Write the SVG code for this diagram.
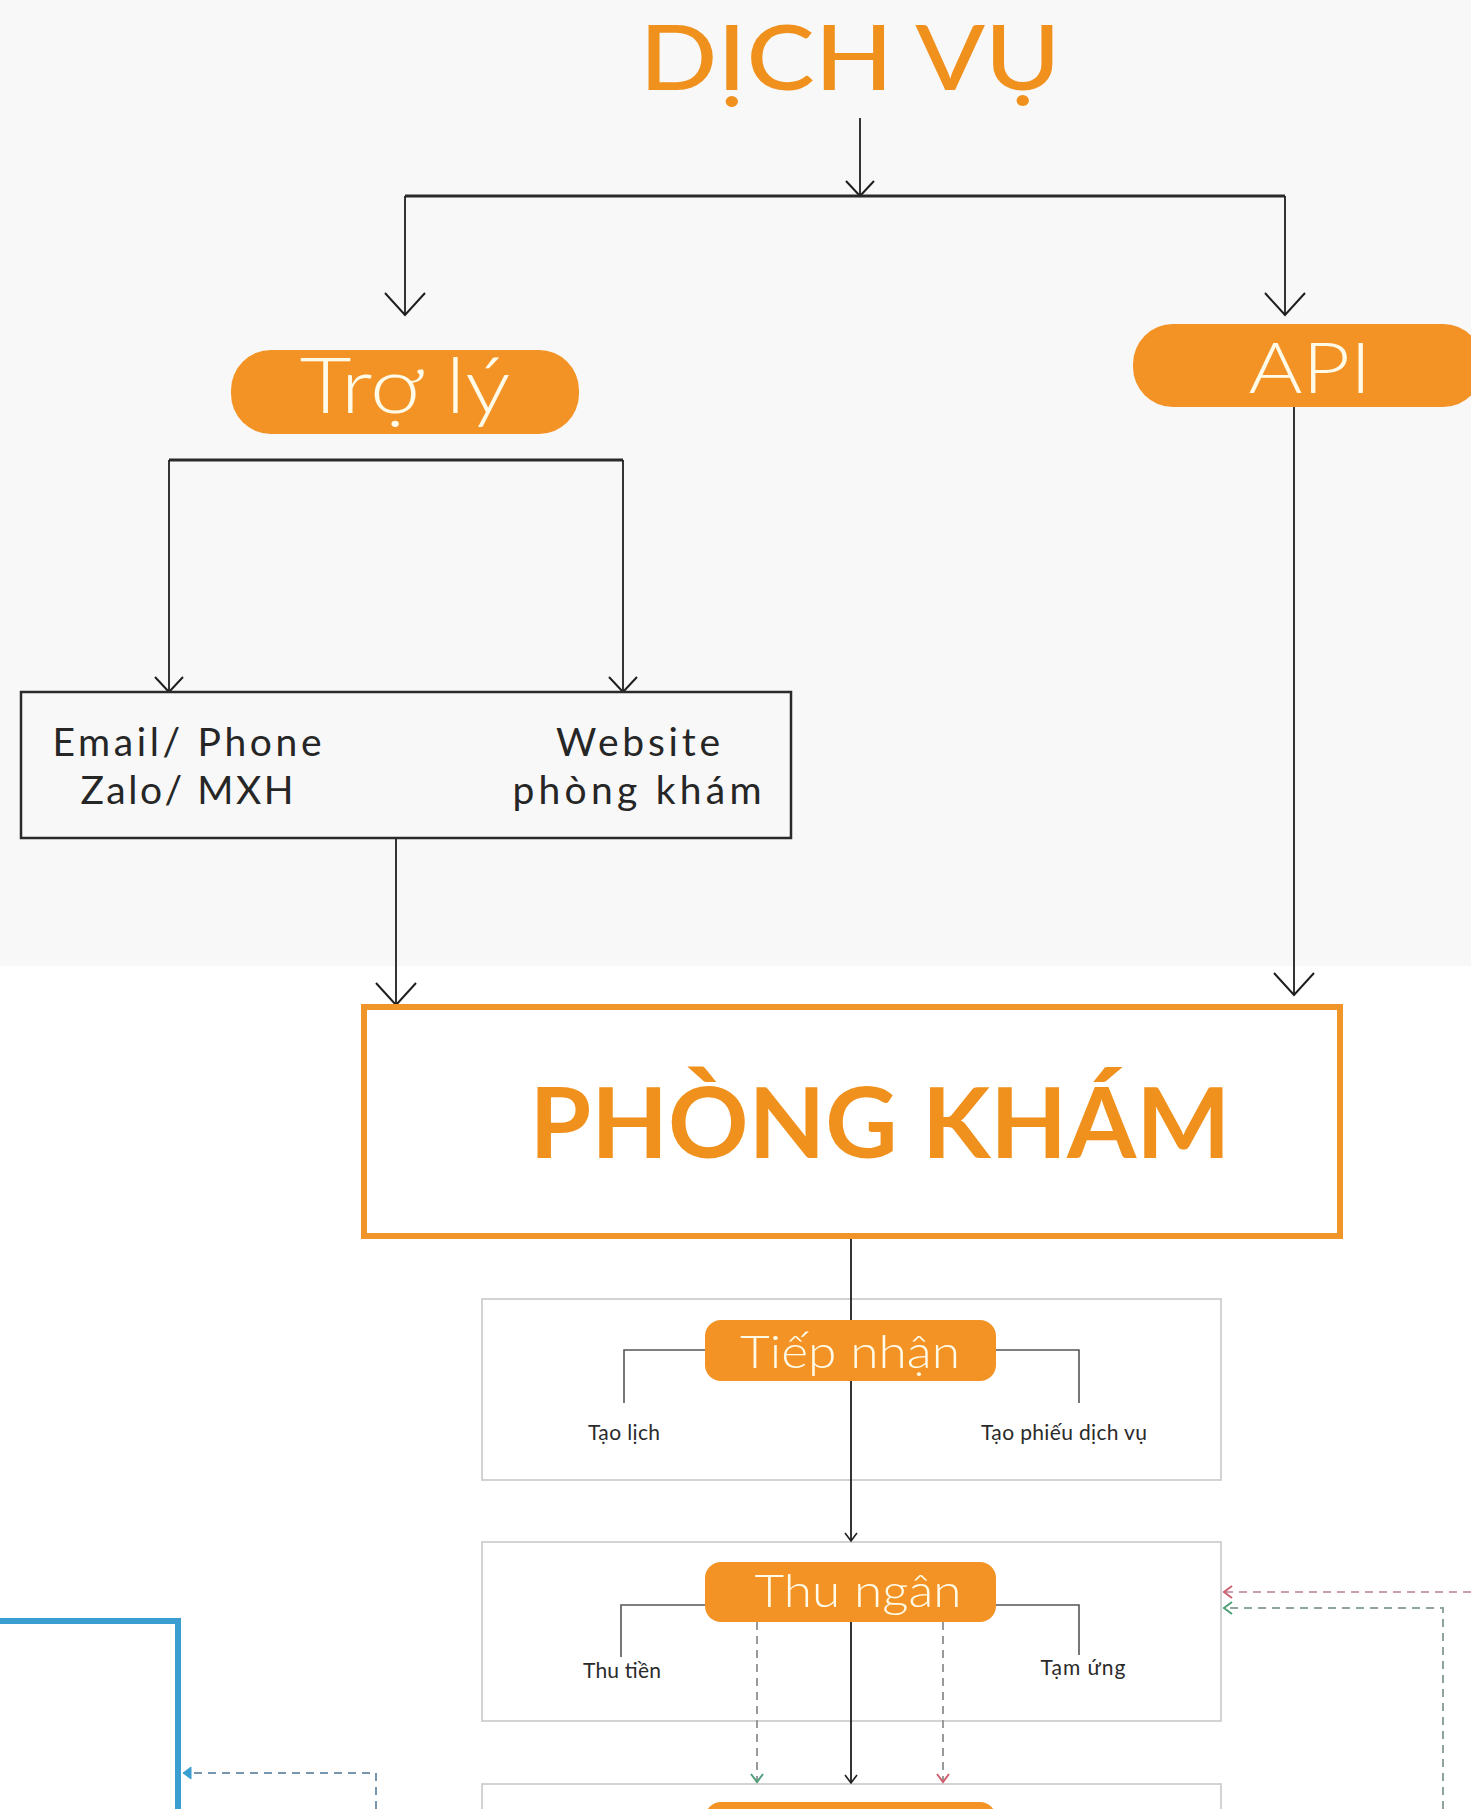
<svg xmlns="http://www.w3.org/2000/svg" width="1471" height="1809" viewBox="0 0 1471 1809">
<style>
.conn{fill:none;stroke:#1e1e1e;stroke-width:1.8}
.thick{fill:none;stroke:#2a2a2a;stroke-width:3}
.pill{fill:#F39325}
.pilltxt{font-family:Lato,"Noto Sans",sans-serif;font-weight:300;fill:#FFFBE8;text-anchor:middle}
.dark{font-family:Lato,"Noto Sans",sans-serif;fill:#262626;text-anchor:middle}
.small{font-family:Lato,"Noto Sans",sans-serif;font-size:21px;fill:#2a2a2a;text-anchor:middle}
.title{font-family:Lato,"Noto Sans",sans-serif;fill:#F0911E;text-anchor:middle}
.panel{fill:none;stroke:#c9c9c9;stroke-width:1.6}
.brk{fill:none;stroke:#555;stroke-width:1.6}
.dashG{fill:none;stroke:#8fa59a;stroke-width:2;stroke-dasharray:8 6}
.dashR{fill:none;stroke:#c9a0aa;stroke-width:2;stroke-dasharray:8 6}
.dashV{fill:none;stroke:#9a9a9a;stroke-width:2;stroke-dasharray:8 6}
.dashB{fill:none;stroke:#7896ad;stroke-width:2;stroke-dasharray:8 6}
</style>
<defs>
<marker id="aBig" markerUnits="userSpaceOnUse" markerWidth="50" markerHeight="50" viewBox="-25 -25 50 50" refX="0" refY="0" orient="auto"><path d="M-22,-20 L0,0 L-22,20" fill="none" stroke="#1e1e1e" stroke-width="2"/></marker>
<marker id="aMed" markerUnits="userSpaceOnUse" markerWidth="40" markerHeight="40" viewBox="-20 -20 40 40" refX="0" refY="0" orient="auto"><path d="M-15,-14 L0,0 L-15,14" fill="none" stroke="#1e1e1e" stroke-width="2"/></marker>
<marker id="aSm" markerUnits="userSpaceOnUse" markerWidth="20" markerHeight="20" viewBox="-10 -10 20 20" refX="0" refY="0" orient="auto"><path d="M-8,-6 L0,0 L-8,6" fill="none" stroke="#1e1e1e" stroke-width="1.6"/></marker>
<marker id="aG" markerUnits="userSpaceOnUse" markerWidth="20" markerHeight="20" viewBox="-10 -10 20 20" refX="0" refY="0" orient="auto"><path d="M-8,-6 L0,0 L-8,6" fill="none" stroke="#4fa07a" stroke-width="2"/></marker>
<marker id="aR" markerUnits="userSpaceOnUse" markerWidth="20" markerHeight="20" viewBox="-10 -10 20 20" refX="0" refY="0" orient="auto"><path d="M-8,-6 L0,0 L-8,6" fill="none" stroke="#d0606f" stroke-width="2"/></marker>
<marker id="aB" markerUnits="userSpaceOnUse" markerWidth="20" markerHeight="20" viewBox="-10 -10 20 20" refX="0" refY="0" orient="auto"><path d="M-8,-6 L0,0 L-8,6 Z" fill="#3a9fd0" stroke="#3a9fd0" stroke-width="1"/></marker>
</defs>

<rect x="0" y="0" width="1471" height="1809" fill="#ffffff"/>
<rect x="0" y="0" width="1471" height="966" fill="#f8f8f8"/>

<g id="panels">
  <rect class="panel" x="482" y="1299" width="739" height="181"/>
  <rect class="panel" x="482" y="1542" width="739" height="179"/>
  <rect class="panel" x="482" y="1784" width="739" height="60"/>
</g>

<g id="connectors">
  <line class="conn" x1="860" y1="118" x2="860" y2="196" marker-end="url(#aMed)"/>
  <path class="thick" d="M405,196 H1285"/>
  <line class="conn" x1="405" y1="196" x2="405" y2="315" marker-end="url(#aBig)"/>
  <line class="conn" x1="1285" y1="196" x2="1285" y2="315" marker-end="url(#aBig)"/>
  <path class="thick" d="M169,460 H623"/>
  <line class="conn" x1="169" y1="460" x2="169" y2="692" marker-end="url(#aMed)"/>
  <line class="conn" x1="623" y1="460" x2="623" y2="692" marker-end="url(#aMed)"/>
  <line class="conn" x1="396" y1="838" x2="396" y2="1005" marker-end="url(#aBig)"/>
  <line class="conn" x1="1294" y1="407" x2="1294" y2="995" marker-end="url(#aBig)"/>
  <line class="conn" x1="851" y1="1239" x2="851" y2="1320"/>
  <line class="conn" x1="851" y1="1381" x2="851" y2="1541" marker-end="url(#aSm)"/>
  <line class="conn" x1="851" y1="1622" x2="851" y2="1783" marker-end="url(#aSm)"/>
  <line class="dashV" x1="757" y1="1622" x2="757" y2="1782" marker-end="url(#aG)"/>
  <line class="dashV" x1="943" y1="1622" x2="943" y2="1782" marker-end="url(#aR)"/>
  <path class="dashR" d="M1471,1592 H1224" marker-end="url(#aR)"/>
  <path class="dashG" d="M1443,1809 V1608 H1224" marker-end="url(#aG)"/>
  <path d="M0,1621 H178 V1809" fill="none" stroke="#3a9fd0" stroke-width="6"/>
  <path class="dashB" d="M376,1809 V1773 H183" marker-end="url(#aB)"/>
</g>

<g id="dich-vu">
  <text class="title" x="850" y="90" font-size="90" font-weight="500" textLength="421" lengthAdjust="spacingAndGlyphs">DỊCH VỤ</text>
</g>

<g id="tro-ly">
  <rect class="pill" x="231" y="350" width="348" height="84" rx="40"/>
  <text class="pilltxt" x="405" y="413" font-size="76" textLength="211" lengthAdjust="spacingAndGlyphs">Trợ lý</text>
</g>

<g id="api">
  <rect class="pill" x="1133" y="324" width="350" height="83" rx="40"/>
  <text class="pilltxt" x="1310" y="393" font-size="70" textLength="123" lengthAdjust="spacingAndGlyphs">API</text>
</g>

<g id="kenh">
  <rect x="21" y="692" width="770" height="146" fill="#f8f8f8" stroke="#2a2a2a" stroke-width="2.5"/>
  <text class="dark" x="187" y="756" font-size="39" textLength="269" lengthAdjust="spacing">Email/ Phone</text>
  <text class="dark" x="187" y="804" font-size="39" textLength="213" lengthAdjust="spacing">Zalo/ MXH</text>
  <text class="dark" x="638" y="756" font-size="39" textLength="164" lengthAdjust="spacing">Website</text>
  <text class="dark" x="637" y="804" font-size="39" textLength="249" lengthAdjust="spacing">phòng khám</text>
</g>

<g id="phong-kham">
  <rect x="364" y="1007" width="976" height="229" fill="none" stroke="#F0952A" stroke-width="6"/>
  <text class="title" x="880" y="1158" font-size="98" font-weight="700" textLength="701" lengthAdjust="spacingAndGlyphs">PHÒNG KHÁM</text>
</g>

<g id="tiep-nhan">
  <path class="brk" d="M624,1403 V1350 H705 M996,1350 H1079 V1403"/>
  <rect class="pill" x="705" y="1320" width="291" height="61" rx="16"/>
  <text class="pilltxt" x="850" y="1368" font-size="46" font-weight="400" textLength="220" lengthAdjust="spacingAndGlyphs">Tiếp nhận</text>
  <text class="small" x="624" y="1440" textLength="72" lengthAdjust="spacing">Tạo lịch</text>
  <text class="small" x="1064" y="1440" textLength="166" lengthAdjust="spacing">Tạo phiếu dịch vụ</text>
</g>

<g id="thu-ngan">
  <path class="brk" d="M621,1657 V1605 H705 M996,1605 H1079 V1655"/>
  <rect class="pill" x="705" y="1562" width="291" height="60" rx="16"/>
  <text class="pilltxt" x="858" y="1607" font-size="46" font-weight="400" textLength="207" lengthAdjust="spacingAndGlyphs">Thu ngân</text>
  <text class="small" x="622" y="1678" textLength="78" lengthAdjust="spacing">Thu tiền</text>
  <text class="small" x="1083" y="1675" textLength="85" lengthAdjust="spacing">Tạm ứng</text>
</g>

<g id="next-step">
  <rect class="pill" x="705" y="1802" width="291" height="60" rx="16"/>
</g>
</svg>
